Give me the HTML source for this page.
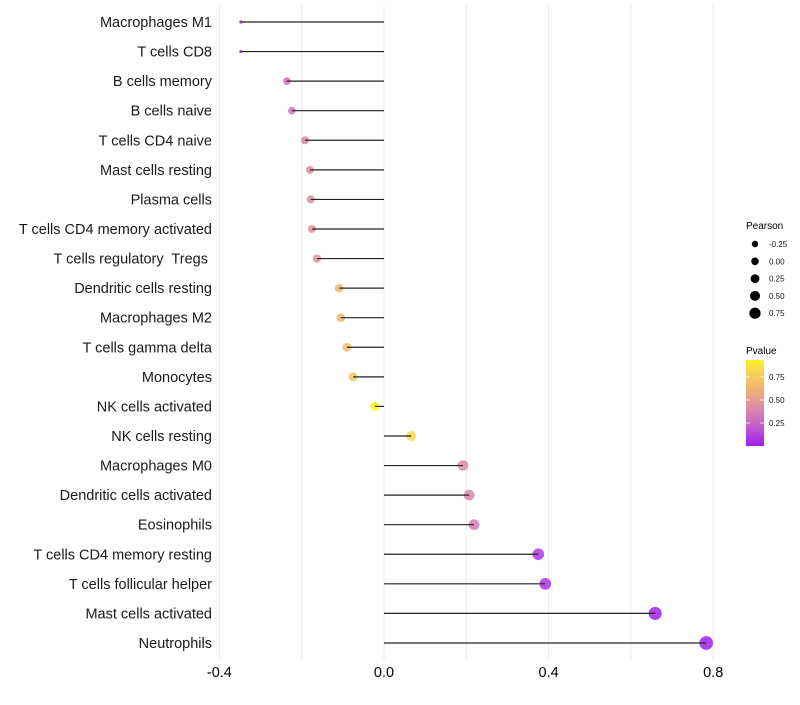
<!DOCTYPE html>
<html><head><meta charset="utf-8"><style>
body{margin:0;background:#fff;font-family:"Liberation Sans",sans-serif}
</style></head><body>
<svg id="chart" width="800" height="700" xmlns="http://www.w3.org/2000/svg" font-family="Liberation Sans, sans-serif"></svg>
<script>
const categories=["Macrophages M1","T cells CD8","B cells memory","B cells naive","T cells CD4 naive","Mast cells resting","Plasma cells","T cells CD4 memory activated","T cells regulatory  Tregs ","Dendritic cells resting","Macrophages M2","T cells gamma delta","Monocytes","NK cells activated","NK cells resting","Macrophages M0","Dendritic cells activated","Eosinophils","T cells CD4 memory resting","T cells follicular helper","Mast cells activated","Neutrophils"];
const pearson=[-0.348,-0.348,-0.236,-0.224,-0.192,-0.18,-0.178,-0.175,-0.163,-0.109,-0.105,-0.09,-0.075,-0.022,0.066,0.192,0.207,0.219,0.375,0.392,0.659,0.783];
const pvalues=[0.03,0.03,0.3,0.32,0.4,0.45,0.45,0.45,0.47,0.65,0.66,0.7,0.75,0.97,0.85,0.42,0.38,0.36,0.1,0.08,0.005,0.002];
const xTicks=[-0.4,0.0,0.4,0.8];
const xTickLabels=["-0.4","0.0","0.4","0.8"];
const sizeLegend=[-0.25,0,0.25,0.5,0.75];
const pLegend=[0.25,0.5,0.75];

const svg=document.getElementById('chart');
const NS='http://www.w3.org/2000/svg';
function mk(t,a,p){const e=document.createElementNS(NS,t);for(const k in a)e.setAttribute(k,a[k]);(p||svg).appendChild(e);return e;}
const x=v=>384+v*411.5;
const y=i=>22+i*29.57;
const r=v=>v<-0.3?1.6:Math.sqrt(Math.max(2.5,22+32*v));
const stops=[[0,[160,32,240]],[0.3,[208,112,192]],[0.45,[224,144,156]],[0.65,[240,184,112]],[0.85,[248,216,80]],[1,[255,255,0]]];
function col(p){for(let k=1;k<stops.length;k++){if(p<=stops[k][0]){const [a,ca]=stops[k-1],[b,cb]=stops[k];const t=(p-a)/(b-a);return 'rgb('+ca.map((c,i)=>Math.round(c+(cb[i]-c)*t)).join(',')+')';}}return 'rgb(255,255,0)';}

for(let v=-0.4;v<=0.81;v+=0.2){const g=mk('line',{x1:x(v),x2:x(v),y1:5,y2:660,stroke:'#ebebeb','stroke-width':1});
}
xTicks.forEach((v,i)=>{const t=mk('text',{x:x(v),y:677,'text-anchor':'middle','font-size':14.5,fill:'#000'});t.textContent=xTickLabels[i];
});
categories.forEach((c,i)=>{
const t=mk('text',{x:212,y:y(i)+5,'text-anchor':'end','font-size':14.5,fill:'#1a1a1a'});t.setAttribute('xml:space','preserve');t.style.whiteSpace='pre';t.textContent=c;

const d=mk('circle',{cx:x(pearson[i]),cy:y(i),r:r(pearson[i]),fill:col(pvalues[i]),'fill-opacity':0.85});

const l=mk('line',{x1:x(0),x2:x(pearson[i]),y1:y(i),y2:y(i),stroke:'#222','stroke-width':1.2});

});
const lt=mk('text',{x:746,y:229,'font-size':10,fill:'#000'});lt.textContent='Pearson';

sizeLegend.forEach((v,i)=>{const cy=244+i*17.3;
const c=mk('circle',{cx:755,cy:cy,r:3.2+i*0.6,fill:'#000'});

const t=mk('text',{x:769,y:cy+3,'font-size':8,fill:'#1a1a1a'});t.textContent=v.toFixed(2);
});
const pt=mk('text',{x:746,y:354,'font-size':10,fill:'#000'});pt.textContent='Pvalue';

const defs=mk('defs',{});const gr=mk('linearGradient',{id:'pg',x1:0,y1:1,x2:0,y2:0},defs);
for(let k=0;k<=10;k++){const p=k/10*0.95;mk('stop',{offset:k/10,'stop-color':col(p)},gr);}
const bar=mk('rect',{x:746,y:360,width:18,height:86,fill:'url(#pg)'});

pLegend.forEach(v=>{const cy=446-v*92;
mk('line',{x1:746,x2:750,y1:cy,y2:cy,stroke:'#fff','stroke-width':0.8});mk('line',{x1:760,x2:764,y1:cy,y2:cy,stroke:'#fff','stroke-width':0.8});
const t=mk('text',{x:769,y:cy+3,'font-size':8,fill:'#1a1a1a'});t.textContent=v.toFixed(2);
});
</script>
</body></html>
